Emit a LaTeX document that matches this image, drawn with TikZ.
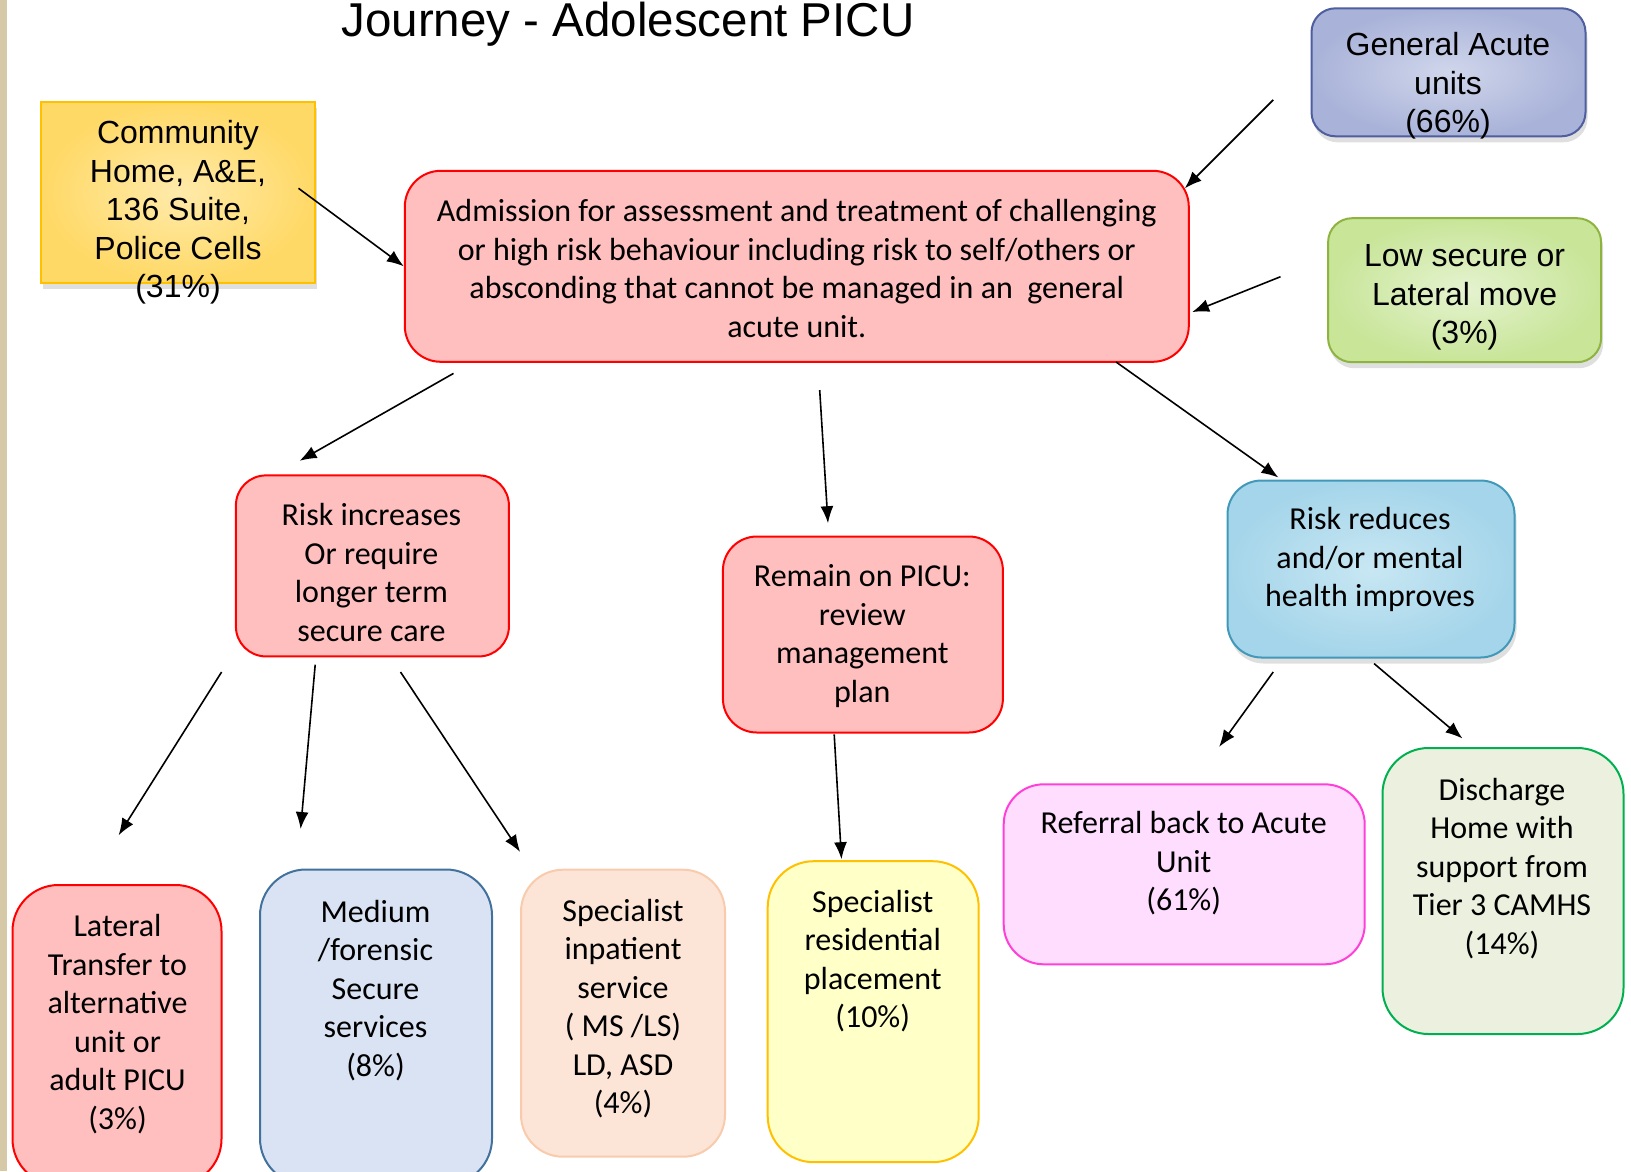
\documentclass[tikz,border=0pt]{standalone}
\usepackage{fontspec}
\setmainfont{Carlito}
\newfontfamily\arialfont{Liberation Sans}
\usepackage{tikz}
\usetikzlibrary{arrows.meta,shadows}

\definecolor{stripbeige}{HTML}{D6C9A8}
\definecolor{pinkfill}{HTML}{FFBFBF}
\definecolor{commline}{HTML}{FFC000}
\definecolor{commin}{HTML}{FFEAAA}
\definecolor{commout}{HTML}{FFD966}
\definecolor{genline}{HTML}{4F5E9E}
\definecolor{genin}{HTML}{D0D6EB}
\definecolor{genout}{HTML}{A9B3D9}
\definecolor{lowline}{HTML}{8DB441}
\definecolor{lowin}{HTML}{E5F3D0}
\definecolor{lowout}{HTML}{C8E598}
\definecolor{rredline}{HTML}{4198B8}
\definecolor{rredin}{HTML}{C8E7F3}
\definecolor{rredout}{HTML}{A5D5EA}
\definecolor{medfill}{HTML}{DAE3F3}
\definecolor{medline}{HTML}{41719C}
\definecolor{spifill}{HTML}{FCE4D6}
\definecolor{spiline}{HTML}{F8CBAD}
\definecolor{sprfill}{HTML}{FFFFC8}
\definecolor{sprline}{HTML}{FFC000}
\definecolor{reffill}{HTML}{FFDDFF}
\definecolor{refline}{HTML}{FF40D8}
\definecolor{disfill}{HTML}{EBF1DE}
\definecolor{disline}{HTML}{00B050}

\begin{document}
\begin{tikzpicture}[x=1pt, y=-1pt,
    sbox/.style={shape=rectangle, line width=2pt, rounded corners=#1},
    pinkbox/.style={sbox=#1, draw=red, fill=pinkfill},
    shd/.style={drop shadow={shadow xshift=2pt, shadow yshift=-6pt, opacity=.25}},
    lbl/.style={align=center, inner sep=0pt, font=\fontsize{32}{38.5}\selectfont},
    albl/.style={align=center, inner sep=0pt, font=\arialfont\fontsize{32}{38.5}\selectfont},
    arr/.style={-{Latex[length=17pt,width=13pt]}, line width=1.6pt}]
    % Frame and page strip:
    \useasboundingbox (0,0) rectangle (1631,1171);
    \clip (0,0) rectangle (1631,1171);
    \fill[stripbeige] (0,0) rectangle (7,1171);
    \node[font=\arialfont\fontsize{47.5}{57}\selectfont, anchor=base] (title) at (628,36) {Journey - Adolescent PICU};

    % Sources:
    \node[sbox=0pt, draw=commline, inner color=commin, outer color=commout, shd, minimum width=274pt, minimum height=181pt] (comm) at (178.4,192.4) {};
    \node[albl] (comm-t) at (178,212.5) {Community\\Home, A\&E,\\136 Suite,\\Police Cells\\(31\%)};
    \node[sbox=24pt, draw=genline, inner color=genin, outer color=genout, shd, minimum width=274pt, minimum height=128pt] (gen) at (1448.5,72.3) {};
    \node[albl] (gen-t) at (1448,86.2) {General Acute\\units\\(66\%)};
    \node[sbox=24pt, draw=lowline, inner color=lowin, outer color=lowout, shd, minimum width=273pt, minimum height=144pt] (low) at (1464.6,290.2) {};
    \node[albl] (low-t) at (1464.6,297.3) {Low secure or\\Lateral move\\(3\%)};

    % Admission and pathways:
    \node[pinkbox=36pt, minimum width=784pt, minimum height=191pt] (adm) at (796.8,266.3) {};
    \node[lbl] (adm-t) at (796.8,268.3) {Admission for assessment and treatment of challenging\\or high risk behaviour including risk to self/others or\\absconding that cannot be managed in an\ \ general\\acute unit.};
    \node[pinkbox=30pt, minimum width=273pt, minimum height=181pt] (rinc) at (372.4,565.9) {};
    \node[lbl] (rinc-t) at (371.4,572.6) {Risk increases\\Or require\\longer term\\secure care};
    \node[pinkbox=34pt, minimum width=280pt, minimum height=196pt] (rem) at (862.9,634.5) {};
    \node[lbl] (rem-t) at (862.3,636) {Remain on PICU:\\review\\management\\plan};
    \node[sbox=34pt, draw=rredline, inner color=rredin, outer color=rredout, shd, minimum width=287pt, minimum height=177pt] (rred) at (1371,569) {};
    \node[lbl] (rred-t) at (1370,559.5) {Risk reduces\\and/or mental\\health improves};

    % Outcomes:
    \node[pinkbox=46pt, minimum width=209pt, minimum height=300pt] (lat) at (117,1035) {};
    \node[lbl] (lat-t) at (117.5,1024) {Lateral\\Transfer to\\alternative\\unit or\\adult PICU\\(3\%)};
    \node[sbox=46pt, draw=medline, fill=medfill, minimum width=232pt, minimum height=315pt] (med) at (376,1027) {};
    \node[lbl] (med-t) at (375.5,990.2) {Medium\\/forensic\\Secure\\services\\(8\%)};
    \node[sbox=42pt, draw=spiline, fill=spifill, minimum width=204pt, minimum height=287pt] (spi) at (623,1013.2) {};
    \node[lbl] (spi-t) at (623,1008.4) {Specialist\\inpatient\\service\\( MS /LS)\\LD, ASD\\(4\%)};
    \node[sbox=46pt, draw=sprline, fill=sprfill, minimum width=211pt, minimum height=301pt] (spr) at (873.2,1011.7) {};
    \node[lbl] (spr-t) at (872.7,961.1) {Specialist\\residential\\placement\\(10\%)};
    \node[sbox=40pt, draw=refline, fill=reffill, minimum width=361pt, minimum height=180pt] (ref) at (1184.2,874.3) {};
    \node[lbl] (ref-t) at (1183.7,863.3) {Referral back to Acute\\Unit\\(61\%)};
    \node[sbox=46pt, draw=disline, fill=disfill, minimum width=241pt, minimum height=286pt] (dis) at (1503,891) {};
    \node[lbl] (dis-t) at (1502,868.5) {Discharge\\Home with\\support from\\Tier 3 CAMHS\\(14\%)};

    % Arrow ends:
    \coordinate (comm-out) at (298.5,188.3);
    \coordinate (gen-out) at (1273.2,99.9);
    \coordinate (gen-in) at (1184.8,188.3);
    \coordinate (low-out) at (1280.5,276.7);
    \coordinate (low-in) at (1192.1,312.1);
    \coordinate (adm-out1) at (453.5,373.4);
    \coordinate (rinc-in) at (299.6,460.8);
    \coordinate (adm-out2) at (819.7,390.1);
    \coordinate (rem-in) at (828,523.2);
    \coordinate (adm-out3) at (1116.1,362);
    \coordinate (rred-in) at (1278.4,477.5);
    \coordinate (rinc-out1) at (221.6,672);
    \coordinate (lat-in) at (118.6,835.3);
    \coordinate (rinc-out2) at (315.2,664.7);
    \coordinate (med-in) at (300.6,829);
    \coordinate (rinc-out3) at (400.5,672);
    \coordinate (spi-in) at (520.1,851.9);
    \coordinate (rem-out) at (834.2,734.4);
    \coordinate (spr-in) at (841.5,859.2);
    \coordinate (rred-out1) at (1273.2,672);
    \coordinate (ref-in) at (1219.1,746.9);
    \coordinate (rred-out2) at (1374.1,663.6);
    \coordinate (dis-in) at (1462.5,738.5);

    % Connectors:
    \draw[arr] (comm-out) -- (adm.west);
    \draw[arr] (gen-out) -- (gen-in);
    \draw[arr] (low-out) -- (low-in);
    \draw[arr] (adm-out1) -- (rinc-in);
    \draw[arr] (adm-out2) -- (rem-in);
    \draw[arr] (adm-out3) -- (rred-in);
    \draw[arr] (rinc-out1) -- (lat-in);
    \draw[arr] (rinc-out2) -- (med-in);
    \draw[arr] (rinc-out3) -- (spi-in);
    \draw[arr] (rem-out) -- (spr-in);
    \draw[arr] (rred-out1) -- (ref-in);
    \draw[arr] (rred-out2) -- (dis-in);
\end{tikzpicture}
\end{document}
